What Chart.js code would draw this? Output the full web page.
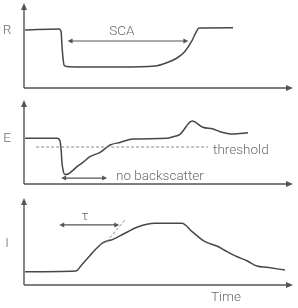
<!DOCTYPE html>
<html>
<head>
<meta charset="utf-8">
<script src="https://cdn.jsdelivr.net/npm/chart.js@4.4.0/dist/chart.umd.min.js"></script>
<style>
  body { margin: 0; background: #fff; width: 298px; height: 308px; overflow: hidden; position: relative; }
  canvas { position: absolute; left: 0; }
</style>
</head>
<body>
<canvas id="chartR" width="298" height="95" style="top:0px"></canvas>
<canvas id="chartE" width="298" height="95" style="top:95px"></canvas>
<canvas id="chartI" width="298" height="118" style="top:190px"></canvas>
<script>
// time axis runs 0..100, each signal runs 0..100 (arbitrary units)
const timeR = [0.4, 13.0, 13.8, 14.1, 14.5, 14.9, 16.0, 20.8, 35.7, 48.7, 53.2, 56.9, 59.8, 62.5, 63.7, 65.1, 77.7];
const valueR = [68.2, 69.4, 65.9, 50.6, 35.3, 27.0, 25.2, 24.7, 24.7, 25.9, 30.0, 35.3, 43.0, 56.0, 64.0, 70.6, 71.0];

const timeE = [0.4, 12.3, 13.4, 13.8, 14.1, 14.5, 15.2, 16.4, 19.7, 22.0, 24.5, 28.3, 32.0, 35.7, 40.5, 53.2, 55.4, 58.0, 62.5, 66.5, 70.3, 72.9, 77.7, 83.3];
const valueE = [54.4, 54.4, 51.2, 40.5, 26.2, 16.7, 11.3, 11.9, 20.6, 26.0, 32.5, 37.7, 46.4, 49.5, 53.6, 54.4, 56.3, 59.2, 75.0, 67.5, 65.5, 62.3, 59.5, 61.1];

const timeI = [0.4, 19.3, 21.4, 24.5, 27.0, 29.4, 33.1, 36.8, 42.0, 45.7, 48.7, 58.7, 62.5, 67.3, 71.7, 75.5, 79.2, 82.9, 86.6, 90.3, 97.0];
const valueI = [15.3, 16.1, 23.0, 33.7, 42.2, 48.6, 52.5, 58.3, 66.3, 69.8, 70.9, 70.9, 61.3, 49.8, 44.8, 38.3, 32.5, 27.9, 21.8, 20.3, 17.2];

const axisNames = ['R', 'E', 'I'];
const axisNameLevels = [67, 54, 48];

// annotations
const scaSpan = [16.2, 61.1];
const scaLevel = 55.3;
const scaText = 'SCA';
const scaTextPos = [36.4, 66];

const thresholdSpan = [4.5, 68.4];
const thresholdLevel = 44.0;
const thresholdText = 'threshold';
const thresholdTextPos = [70.3, 40.0];

const noBackSpan = [13.8, 30.9];
const noBackLevel = 7.1;
const noBackText = 'no backscatter';
const noBackTextPos = [34.2, 8.5];

const tauSpan = [13.1, 35.4];
const tauLevel = 69.0;
const tauText = 'τ';
const tauTextPos = [22.7, 79];
const tangentTime = [30.7, 37.5];
const tangentValue = [49.8, 74.7];

const timeText = 'Time';
const timeTextPos = [75.1, -15];

const inkLine = '#474747';
const inkAxis = '#555555';
const inkText = '#6a6a6a';
const textFont = '300 13.5px Roboto, "Liberation Sans", sans-serif';

function toPoints(xs, ys) {
    return xs.map((x, i) => ({ x: x, y: ys[i] }));
}

function arrowHead(ctx, x, y, angle, len, half) {
    ctx.save();
    ctx.translate(x, y);
    ctx.rotate(angle);
    ctx.beginPath();
    ctx.moveTo(0, 0);
    ctx.lineTo(-len, -half);
    ctx.lineTo(-len, half);
    ctx.closePath();
    ctx.fill();
    ctx.restore();
}

function doubleArrow(chart, span, level) {
    const ctx = chart.ctx;
    const xs = chart.scales.x, ys = chart.scales.y;
    const x1 = xs.getPixelForValue(span[0]);
    const x2 = xs.getPixelForValue(span[1]);
    const y = ys.getPixelForValue(level);
    ctx.strokeStyle = inkAxis;
    ctx.fillStyle = inkAxis;
    ctx.lineWidth = 1.2;
    ctx.beginPath();
    ctx.moveTo(x1 + 3, y);
    ctx.lineTo(x2 - 3, y);
    ctx.stroke();
    arrowHead(ctx, x2, y, 0, 5, 2.5);
    arrowHead(ctx, x1, y, Math.PI, 5, 2.5);
}

function label(chart, text, pos, align) {
    const ctx = chart.ctx;
    ctx.fillStyle = inkText;
    ctx.font = textFont;
    ctx.textAlign = align;
    ctx.textBaseline = 'middle';
    ctx.fillText(text, chart.scales.x.getPixelForValue(pos[0]), chart.scales.y.getPixelForValue(pos[1]));
}

// axes with arrow tips and the axis letter
const axesPlugin = {
    id: 'axesPlugin',
    afterDatasetsDraw(chart, args, opts) {
        const ctx = chart.ctx;
        const a = chart.chartArea;
        ctx.save();
        ctx.strokeStyle = inkAxis;
        ctx.fillStyle = inkAxis;
        ctx.lineWidth = 1.4;
        ctx.beginPath();
        ctx.moveTo(a.left, a.bottom);
        ctx.lineTo(a.left, a.top + 4);
        ctx.moveTo(a.left, a.bottom);
        ctx.lineTo(a.right - 4, a.bottom);
        ctx.stroke();
        arrowHead(ctx, a.left, a.top, -Math.PI / 2, 7, 3);
        arrowHead(ctx, a.right, a.bottom, 0, 7, 3);

        ctx.fillStyle = inkText;
        ctx.font = textFont;
        ctx.textAlign = 'center';
        ctx.textBaseline = 'middle';
        ctx.fillText(axisNames[opts.index], 7, chart.scales.y.getPixelForValue(axisNameLevels[opts.index]));
        ctx.restore();
    }
};

const notesPlugin = {
    id: 'notesPlugin',
    afterDatasetsDraw(chart, args, opts) {
        const ctx = chart.ctx;
        const xs = chart.scales.x, ys = chart.scales.y;
        ctx.save();
        if (opts.panel === 'R') {
            doubleArrow(chart, scaSpan, scaLevel);
            label(chart, scaText, scaTextPos, 'center');
        }
        if (opts.panel === 'E') {
            ctx.strokeStyle = '#8a8a8a';
            ctx.lineWidth = 1;
            ctx.setLineDash([3, 2]);
            ctx.beginPath();
            ctx.moveTo(xs.getPixelForValue(thresholdSpan[0]), ys.getPixelForValue(thresholdLevel));
            ctx.lineTo(xs.getPixelForValue(thresholdSpan[1]), ys.getPixelForValue(thresholdLevel));
            ctx.stroke();
            ctx.setLineDash([]);
            label(chart, thresholdText, thresholdTextPos, 'left');
            doubleArrow(chart, noBackSpan, noBackLevel);
            label(chart, noBackText, noBackTextPos, 'left');
        }
        if (opts.panel === 'I') {
            ctx.strokeStyle = '#8a8a8a';
            ctx.lineWidth = 1;
            ctx.setLineDash([3, 2]);
            ctx.beginPath();
            ctx.moveTo(xs.getPixelForValue(tangentTime[0]), ys.getPixelForValue(tangentValue[0]));
            ctx.lineTo(xs.getPixelForValue(tangentTime[1]), ys.getPixelForValue(tangentValue[1]));
            ctx.stroke();
            ctx.setLineDash([]);
            doubleArrow(chart, tauSpan, tauLevel);
            label(chart, tauText, tauTextPos, 'center');
            label(chart, timeText, timeTextPos, 'center');
        }
        ctx.restore();
    }
};

function makePanel(id, index, times, values, padding) {
    return new Chart(document.getElementById(id), {
        type: 'line',
        data: {
            datasets: [{
                data: toPoints(times, values),
                borderColor: inkLine,
                borderWidth: 1.5,
                pointRadius: 0,
                cubicInterpolationMode: 'monotone',
                fill: false,
                clip: false
            }]
        },
        options: {
            responsive: false,
            animation: false,
            layout: { padding: padding },
            scales: {
                x: { type: 'linear', min: 0, max: 100, display: false },
                y: { min: 0, max: 100, display: false }
            },
            plugins: {
                legend: { display: false },
                tooltip: { enabled: false },
                axesPlugin: { index: index },
                notesPlugin: { panel: axisNames[index] }
            }
        },
        plugins: [axesPlugin, notesPlugin]
    });
}

makePanel('chartR', 0, timeR, valueR, { left: 24, right: 5, top: 3, bottom: 7 });
makePanel('chartE', 1, timeE, valueE, { left: 24, right: 5, top: 5, bottom: 6 });
makePanel('chartI', 2, timeI, valueI, { left: 24, right: 5, top: 8, bottom: 23 });
</script>
</body>
</html>
